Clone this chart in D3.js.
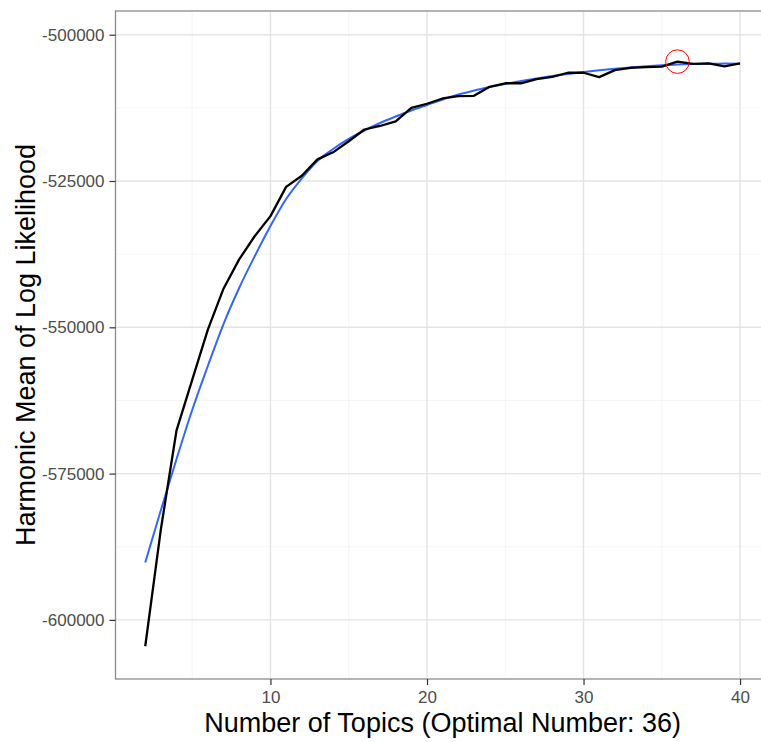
<!DOCTYPE html>
<html>
<head>
<meta charset="utf-8">
<script src="https://cdn.jsdelivr.net/npm/d3@7"></script>
<style>
  html, body { margin: 0; padding: 0; background: #ffffff; }
  svg { display: block; }
</style>
</head>
<body>
<svg id="chart" width="761" height="742"></svg>
<script>
// ---- data ----
const topics = [2,3,4,5,6,7,8,9,10,11,12,13,14,15,16,17,18,19,20,21,22,23,24,25,26,27,28,29,30,31,32,33,34,35,36,37,38,39,40];
const logLik = [-604500,-584500,-567600,-559000,-550400,-543400,-538400,-534400,-531000,-526000,
                -524100,-521300,-520100,-518200,-516200,-515600,-514800,-512500,-511800,-510900,
                -510500,-510450,-508900,-508300,-508300,-507600,-507200,-506500,-506500,-507250,
                -506050,-505650,-505550,-505450,-504600,-505000,-504900,-505400,-504900];
const smooth = [-590190,-581220,-572500,-564130,-556610,-549440,-543280,-537820,-532690,-528080,
                -524570,-521580,-519530,-517820,-516370,-515090,-513980,-512950,-512010,-511070,
                -510220,-509540,-508940,-508420,-507910,-507480,-507060,-506720,-506370,-506080,
                -505830,-505600,-505400,-505230,-505090,-505010,-504960,-504940,-504970];
const xTicks = [10, 20, 30, 40];
const xMinor = [5, 15, 25, 35];
const yTicks = [-500000, -525000, -550000, -575000, -600000];
const yMinor = [-512500, -537500, -562500, -587500];
const optimal = 36;
const xTitle = "Number of Topics (Optimal Number: 36)";
const yTitle = "Harmonic Mean of Log Likelihood";

// ---- layout ----
const panel = { left: 115.5, top: 11, right: 769.8, bottom: 679 };
const svg = d3.select("#chart");
const font = "'Liberation Sans', Arial, Helvetica, sans-serif";

const x = d3.scaleLinear().domain([0.1, 41.9]).range([panel.left, panel.right]);
const y = d3.scaleLinear().domain([-610100, -495950]).range([panel.bottom, panel.top]);

svg.append("rect").attr("width", 761).attr("height", 742).attr("fill", "#ffffff");

// grid
const g = svg.append("g");
g.selectAll(".xminor").data(xMinor).join("line")
  .attr("x1", d => x(d)).attr("x2", d => x(d))
  .attr("y1", panel.top).attr("y2", panel.bottom)
  .attr("stroke", "#F3F3F3").attr("stroke-width", 0.8);
g.selectAll(".yminor").data(yMinor).join("line")
  .attr("x1", panel.left).attr("x2", panel.right)
  .attr("y1", d => y(d)).attr("y2", d => y(d))
  .attr("stroke", "#F3F3F3").attr("stroke-width", 0.8);
g.selectAll(".xmajor").data(xTicks).join("line")
  .attr("x1", d => x(d)).attr("x2", d => x(d))
  .attr("y1", panel.top).attr("y2", panel.bottom)
  .attr("stroke", "#E4E4E4").attr("stroke-width", 1.4);
g.selectAll(".ymajor").data(yTicks).join("line")
  .attr("x1", panel.left).attr("x2", panel.right)
  .attr("y1", d => y(d)).attr("y2", d => y(d))
  .attr("stroke", "#E4E4E4").attr("stroke-width", 1.4);

// lines
const pts = topics.map((t, i) => ({ t, v: logLik[i], s: smooth[i] }));
svg.append("path").datum(pts)
  .attr("fill", "none").attr("stroke", "#3366FF").attr("stroke-width", 2)
  .attr("d", d3.line().x(d => x(d.t)).y(d => y(d.s)).curve(d3.curveMonotoneX));
svg.append("path").datum(pts)
  .attr("fill", "none").attr("stroke", "#000000").attr("stroke-width", 2.3)
  .attr("stroke-linejoin", "round")
  .attr("d", d3.line().x(d => x(d.t)).y(d => y(d.v)));

// optimal marker
const opt = pts.find(d => d.t === optimal);
svg.append("circle").attr("cx", x(opt.t)).attr("cy", y(opt.v)).attr("r", 11.8)
  .attr("fill", "none").attr("stroke", "#FF0000").attr("stroke-width", 1);

// panel border
svg.append("rect")
  .attr("x", panel.left).attr("y", panel.top)
  .attr("width", panel.right - panel.left).attr("height", panel.bottom - panel.top)
  .attr("fill", "none").attr("stroke", "#8C8C8C").attr("stroke-width", 1.3);

// axes
const xAxis = d3.axisBottom(x).tickValues(xTicks).tickSize(6).tickPadding(6).tickFormat(d3.format("d"));
const yAxis = d3.axisLeft(y).tickValues(yTicks).tickSize(6).tickPadding(5).tickFormat(d => d3.format("d")(d).replace("−", "-"));

const gx = svg.append("g").attr("transform", `translate(0,${panel.bottom})`).call(xAxis);
const gy = svg.append("g").attr("transform", `translate(${panel.left},0)`).call(yAxis);
[gx, gy].forEach(ax => {
  ax.select(".domain").remove();
  ax.selectAll(".tick line").attr("stroke", "#333333").attr("stroke-width", 1.2);
  ax.selectAll(".tick text").attr("fill", "#4D4D4D").attr("font-family", font).attr("font-size", 17);
});

// titles
svg.append("text").attr("x", (panel.left + panel.right) / 2).attr("y", 732)
  .attr("text-anchor", "middle").attr("font-family", font).attr("font-size", 27)
  .attr("fill", "#000000").text(xTitle);
svg.append("text")
  .attr("transform", `translate(35,${(panel.top + panel.bottom) / 2}) rotate(-90)`)
  .attr("text-anchor", "middle").attr("font-family", font).attr("font-size", 27)
  .attr("fill", "#000000").text(yTitle);
</script>
</body>
</html>
